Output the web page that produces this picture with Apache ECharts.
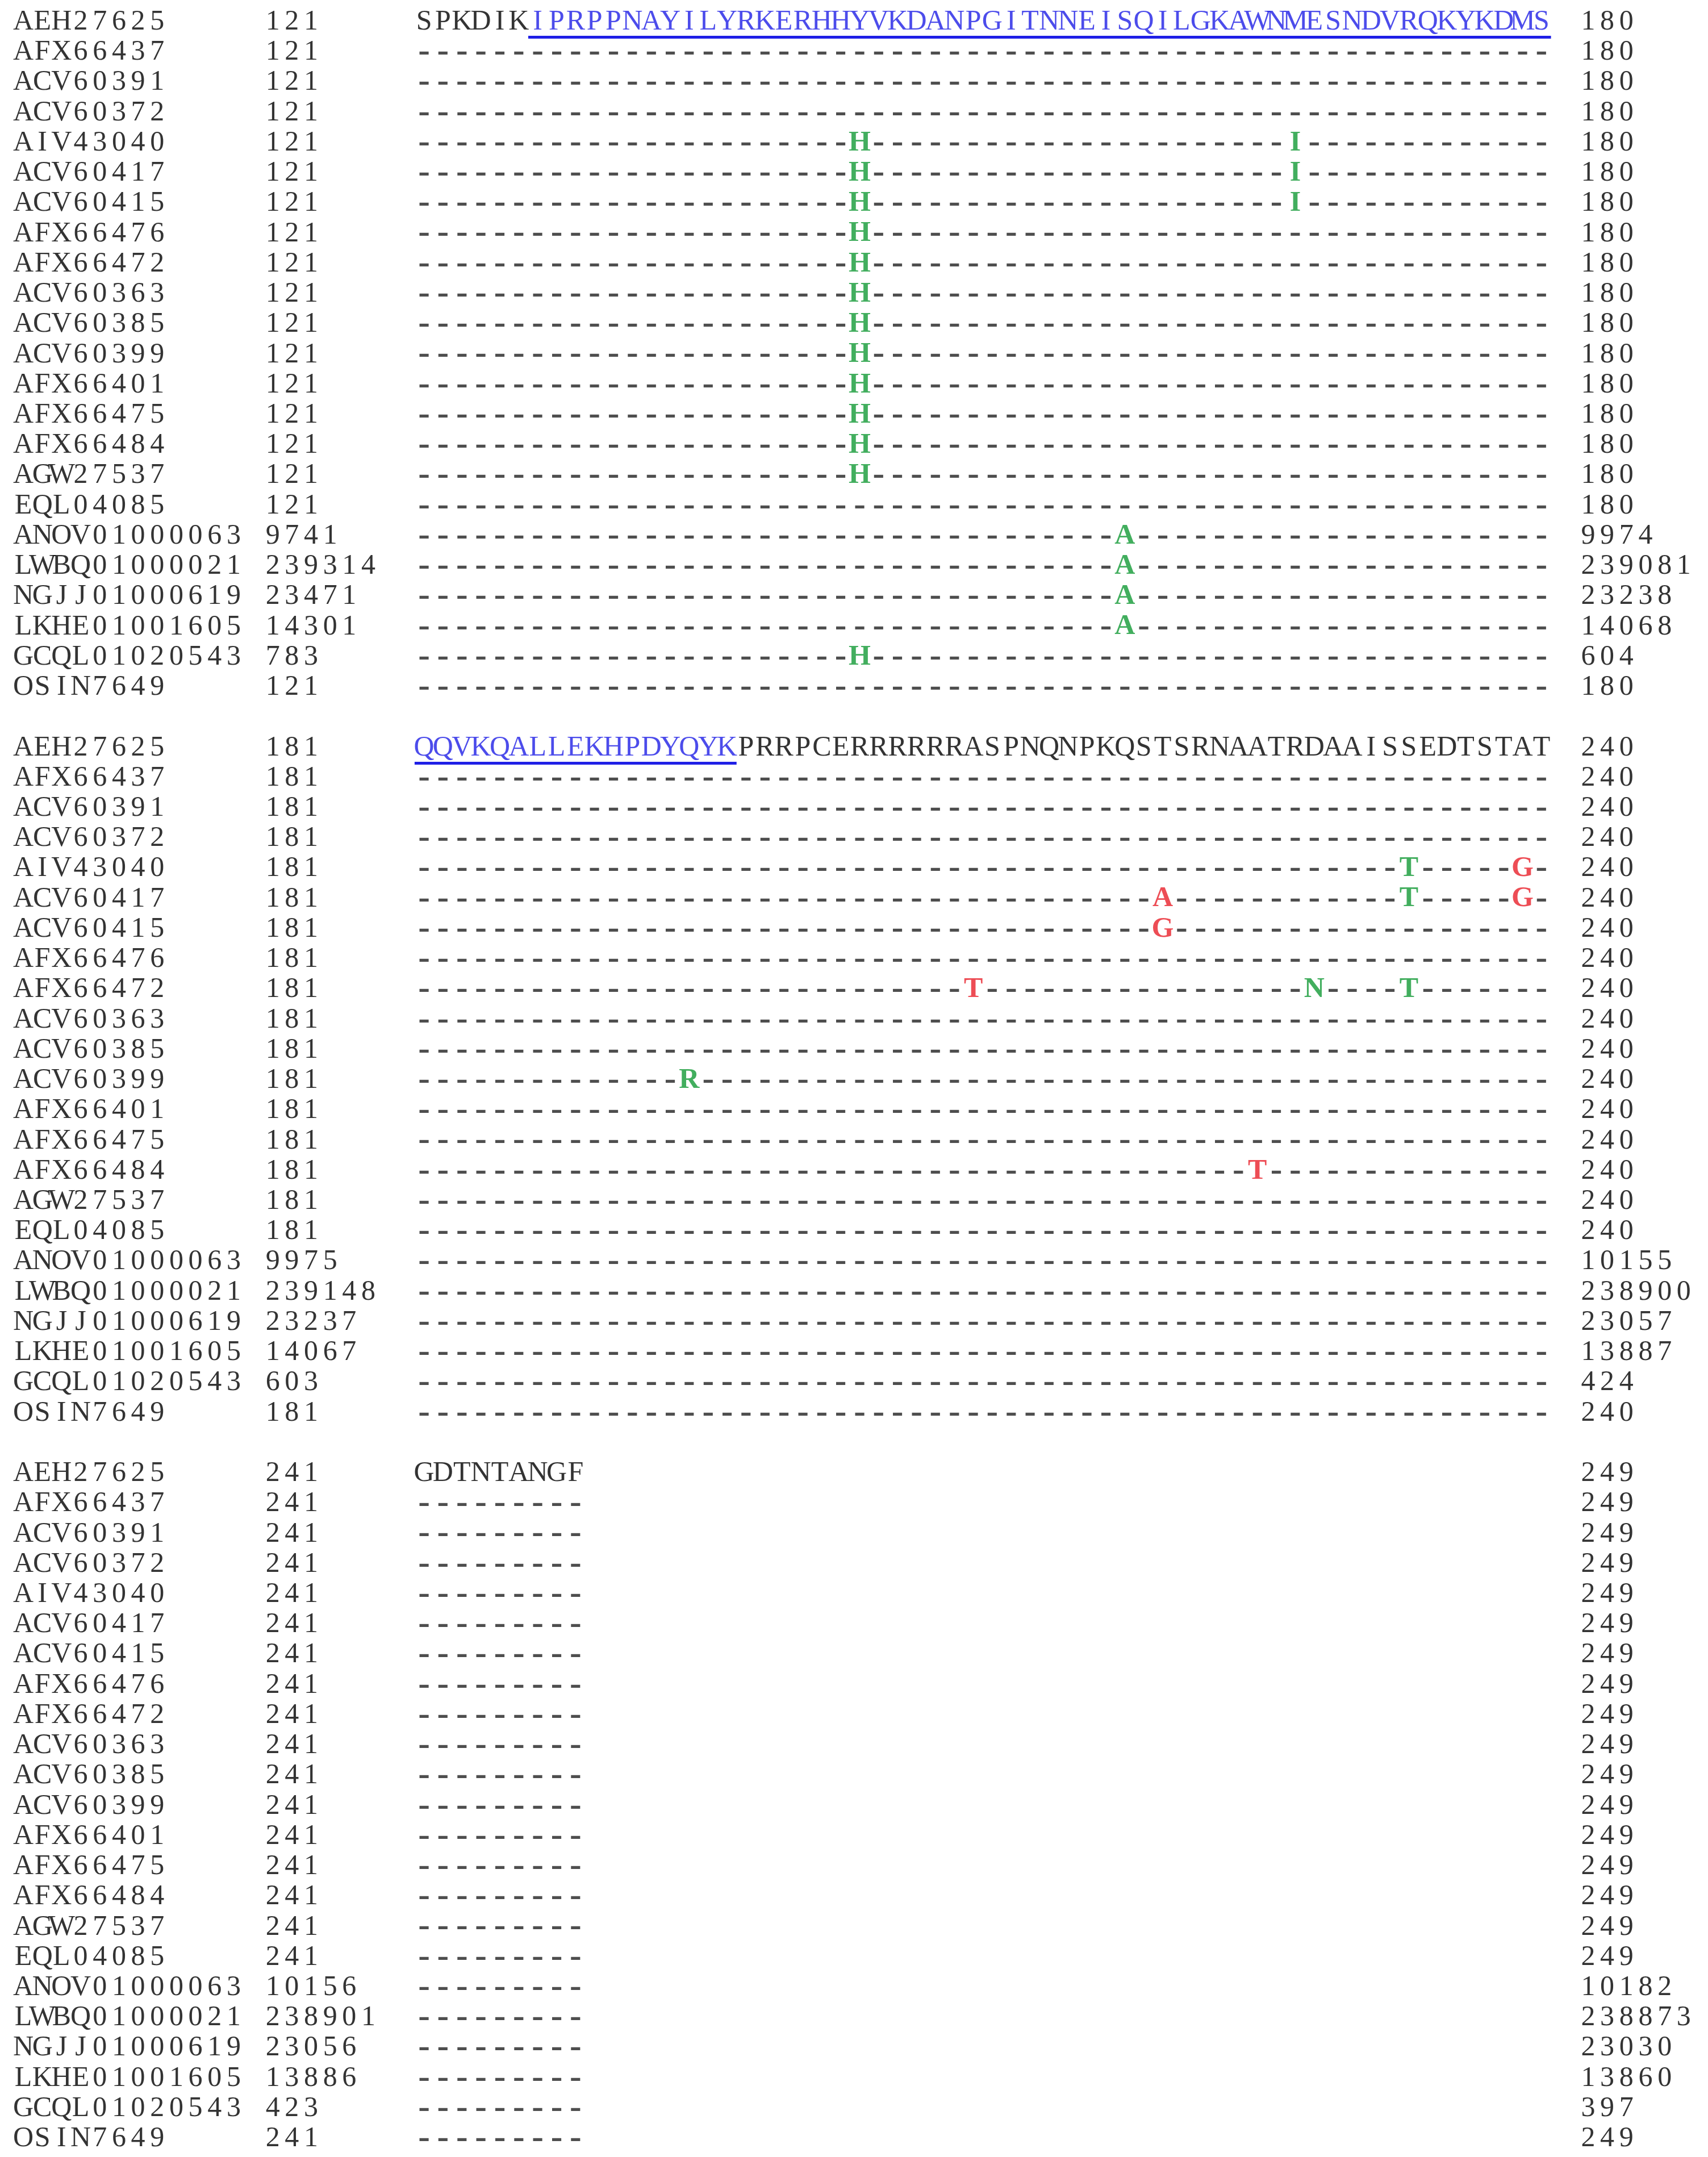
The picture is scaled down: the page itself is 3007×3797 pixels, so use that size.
<!DOCTYPE html>
<html><head><meta charset="utf-8">
<script src="https://cdn.jsdelivr.net/npm/echarts@6/dist/echarts.min.js"></script>
<style>html,body{margin:0;background:#fff}#c{width:3007px;height:3797px}</style>
</head><body><div id="c"></div>
<script>
const names=["AEH27625","AFX66437","ACV60391","ACV60372","AIV43040","ACV60417","ACV60415","AFX66476","AFX66472","ACV60363","ACV60385","ACV60399","AFX66401","AFX66475","AFX66484","AGW27537","EQL04085","ANOV01000063","LWBQ01000021","NGJJ01000619","LKHE01001605","GCQL01020543","OSIN7649"];
const startsB1=[121,121,121,121,121,121,121,121,121,121,121,121,121,121,121,121,121,9741,239314,23471,14301,783,121];
const endsB1=[180,180,180,180,180,180,180,180,180,180,180,180,180,180,180,180,180,9974,239081,23238,14068,604,180];
const startsB2=[181,181,181,181,181,181,181,181,181,181,181,181,181,181,181,181,181,9975,239148,23237,14067,603,181];
const endsB2=[240,240,240,240,240,240,240,240,240,240,240,240,240,240,240,240,240,10155,238900,23057,13887,424,240];
const startsB3=[241,241,241,241,241,241,241,241,241,241,241,241,241,241,241,241,241,10156,238901,23056,13886,423,241];
const endsB3=[249,249,249,249,249,249,249,249,249,249,249,249,249,249,249,249,249,10182,238873,23030,13860,397,249];
const refSeq=["SPKDIKIPRPPNAYILYRKERHHYVKDANPGITNNEISQILGKAWNMESNDVRQKYKDMS","QQVKQALLEKHPDYQYKPRRPCERRRRRRASPNQNPKQSTSRNAATRDAAISSEDTSTAT","GDTNTANGF"];
// [block,row,col,char,color]
const mutations=[
 ...[4,5,6,7,8,9,10,11,12,13,14,15,21].map(r=>[0,r,23,"H","g"]),
 [0,4,46,"I","g"],[0,5,46,"I","g"],[0,6,46,"I","g"],
 [0,17,37,"A","g"],[0,18,37,"A","g"],[0,19,37,"A","g"],[0,20,37,"A","g"],
 [1,4,52,"T","g"],[1,4,58,"G","r"],
 [1,5,39,"A","r"],[1,5,52,"T","g"],[1,5,58,"G","r"],
 [1,6,39,"G","r"],
 [1,8,29,"T","r"],[1,8,47,"N","g"],[1,8,52,"T","g"],
 [1,11,14,"R","g"],
 [1,14,44,"T","r"]
];
const underline=[[0,6,59],[1,0,16]];

const COL={g:"#139a36",r:"#e8202a",b:"#1f1fe6",k:"#000"};
const nameX=0.73,numX=13.9,seqX=21.89,endX=83.35,adv=1.01;
const rowY=(b,r)=>b*24+r;
const starts=[startsB1,startsB2,startsB3],ends=[endsB1,endsB2,endsB3];
const textData=[],dashData=[];
function putText(str,x0,y,color,bold,step){
  for(let i=0;i<str.length;i++){
    const item={value:[x0+i*step+0.5,y],name:str[i],label:{color:color,fontWeight:bold?'bold':'normal'}};
    if(str[i]==='-')dashData.push(item);else textData.push(item);
  }
}
for(let b=0;b<3;b++){
  for(let r=0;r<names.length;r++){
    const y=rowY(b,r);
    putText(names[r],nameX,y,COL.k,false,adv);
    putText(String(starts[b][r]),numX,y,COL.k,false,adv);
    putText(String(ends[b][r]),endX,y,COL.k,false,adv);
    const seq=refSeq[b];
    for(let c=0;c<seq.length;c++){
      if(r===0){
        const blue=underline.some(u=>u[0]===b&&c>=u[1]&&c<=u[2]);
        putText(seq[c],seqX+c,y,blue?COL.b:COL.k,false,1);
      }else{
        const m=mutations.find(m=>m[0]===b&&m[1]===r&&m[2]===c);
        if(m)putText(m[3],seqX+c,y,COL[m[4]],true,1);
        else putText("-",seqX+c,y,"#222",true,1);
      }
    }
  }
}
const ulData=underline.map(u=>({coords:[[seqX+u[1],rowY(u[0],0)+0.5],[seqX+u[2]+1,rowY(u[0],0)+0.5]]}));
const font={fontFamily:"'Liberation Serif', serif",fontSize:50,color:"#000"};
const chart=echarts.init(document.getElementById('c'));
chart.setOption({
  animation:false,
  grid:{left:0,right:0,top:0,bottom:0},
  xAxis:{type:'value',min:0,max:90.18,show:false},
  yAxis:{type:'value',min:-0.73,max:70.6,inverse:true,show:false},
  series:[
    {type:'scatter',symbolSize:0,data:textData,label:{show:true,position:'inside',align:'center',verticalAlign:'middle',formatter:p=>p.name,...font}},
    {type:'scatter',symbolSize:0,data:dashData,label:{show:true,position:'inside',align:'center',verticalAlign:'middle',formatter:p=>p.name,...font,fontSize:62}},
    {type:'lines',coordinateSystem:'cartesian2d',data:ulData,lineStyle:{color:COL.b,width:5,opacity:1}}
  ]
});
</script></body></html>
